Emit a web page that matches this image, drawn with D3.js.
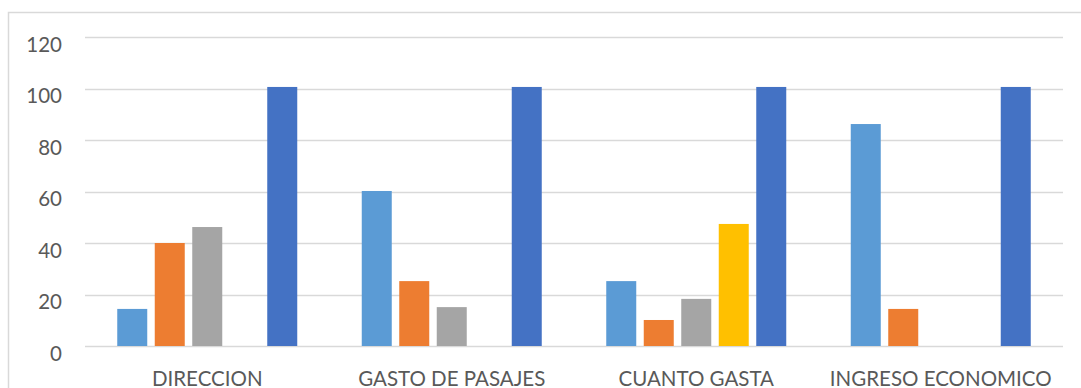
<!DOCTYPE html>
<html>
<head>
<meta charset="utf-8">
<script src="https://cdn.jsdelivr.net/npm/d3@7"></script>
<style>
  html, body { margin: 0; padding: 0; background: #ffffff; }
  svg { display: block; }
  text { font-family: Lato, "Open Sans", sans-serif; fill: #595959; }
</style>
</head>
<body>
<svg id="chart" width="1081" height="388"></svg>
<script>
// Categories along the x axis
const categories = ["DIRECCION", "GASTO DE PASAJES", "CUANTO GASTA", "INGRESO ECONOMICO"];

// Series values, one per category (percentages)
const series1 = [14.4, 60.2, 25.2, 86.2];
const series2 = [40, 25.2, 10.1, 14.4];
const series3 = [46.2, 15.1, 18.3, 0];
const series4 = [0, 0, 47.4, 0];
const series5 = [100.6, 100.6, 100.6, 100.6];

const seriesNames = ["s1", "s2", "s3", "s4", "s5"];
const seriesValues = [series1, series2, series3, series4, series5];
const seriesColors = ["#5B9BD5", "#ED7D31", "#A5A5A5", "#FFC000", "#4472C4"];

// Y axis tick labels
const yTicks = [0, 20, 40, 60, 80, 100, 120];

const svg = d3.select("#chart");
const W = 1081, H = 388;

// Chart area frame
svg.append("rect")
  .attr("x", 8.5).attr("y", 12.5)
  .attr("width", W + 20).attr("height", H + 20)
  .attr("fill", "none")
  .attr("stroke", "#D9D9D9")
  .attr("stroke-width", 1.5);

const plot = { left: 85, right: 1063, top: 37, bottom: 346 };

const x = d3.scaleBand()
  .domain(categories)
  .range([plot.left, plot.right])
  .paddingInner(0)
  .paddingOuter(0);

const xInner = d3.scaleBand()
  .domain(seriesNames)
  .range([0, x.bandwidth()])
  .paddingInner(0.2)
  .paddingOuter(0.86);

const y = d3.scaleLinear()
  .domain([0, 120])
  .range([plot.bottom, plot.top]);

// Horizontal gridlines
svg.append("g")
  .selectAll("line")
  .data(yTicks)
  .join("line")
  .attr("x1", plot.left)
  .attr("x2", plot.right)
  .attr("y1", d => Math.round(y(d)) + 0.5)
  .attr("y2", d => Math.round(y(d)) + 0.5)
  .attr("stroke", "#D9D9D9")
  .attr("stroke-width", 1.5);

// Y tick labels
svg.append("g")
  .selectAll("text")
  .data(yTicks)
  .join("text")
  .attr("x", 62)
  .attr("y", d => y(d) + 14.5)
  .attr("text-anchor", "end")
  .style("font-size", "20.5px")
  .text(d => d);

// Bars
const rows = categories.map((c, i) => ({
  cat: c,
  vals: seriesNames.map((s, j) => ({ s, v: seriesValues[j][i], color: seriesColors[j] }))
}));

const groups = svg.append("g")
  .selectAll("g")
  .data(rows)
  .join("g")
  .attr("transform", d => `translate(${x(d.cat)},0)`);

groups.selectAll("rect")
  .data(d => d.vals.filter(e => e.v > 0))
  .join("rect")
  .attr("x", d => xInner(d.s))
  .attr("width", xInner.bandwidth())
  .attr("y", d => y(d.v))
  .attr("height", d => y(0) - y(d.v))
  .attr("fill", d => d.color);

// X category labels
svg.append("g")
  .selectAll("text")
  .data(categories)
  .join("text")
  .attr("x", d => x(d) + x.bandwidth() / 2)
  .attr("y", 386)
  .attr("text-anchor", "middle")
  .style("font-size", "20.5px")
  .text(d => d);
</script>
</body>
</html>
